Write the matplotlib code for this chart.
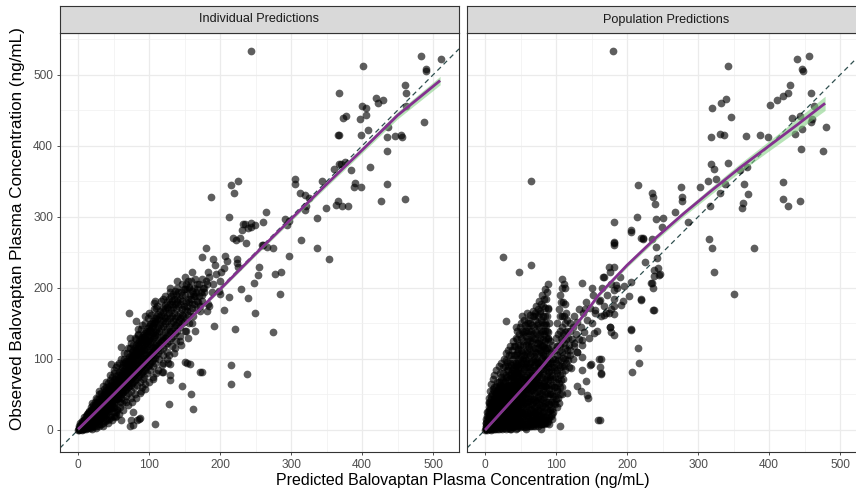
import numpy as np
import matplotlib
matplotlib.use("Agg")
import matplotlib.pyplot as plt
from matplotlib.ticker import MultipleLocator

plt.rcParams['font.family'] = ['Liberation Sans', 'DejaVu Sans']

panel_titles = ["Individual Predictions", "Population Predictions"]
x_title = "Predicted Balovaptan Plasma Concentration (ng/mL)"
y_title = "Observed Balovaptan Plasma Concentration (ng/mL)"
ticks = [0, 100, 200, 300, 400, 500]

# --- individual predictions (IPRED, DV) ---
ipred_core = [
    (0,0),(1,1),(1,3),(2,0),(2,2),(2,5),(3,1),(3,3),(3,6),(4,2),(4,4),(4,8),(5,1),(5,5),(5,9),
    (6,3),(6,6),(6,10),(7,2),(7,7),(7,12),(8,4),(8,8),(8,13),(9,3),(9,9),(9,14),(10,5),(10,10),(10,16),
    (11,4),(11,9),(11,14),(11,19),(12,6),(12,12),(12,17),(13,3),(13,10),(13,15),(13,21),(14,7),(14,13),
    (14,18),(14,24),(15,5),(15,11),(15,16),(15,22),(16,8),(16,14),(16,20),(16,26),(17,6),(17,12),(17,18),
    (17,24),(18,9),(18,15),(18,21),(18,28),(19,7),(19,13),(19,19),(19,25),(20,10),(20,16),(20,22),(20,30),
    (21,8),(21,15),(21,21),(21,28),(22,12),(22,18),(22,25),(22,33),(23,10),(23,16),(23,23),(23,30),
    (24,13),(24,20),(24,27),(24,35),(25,11),(25,18),(25,25),(25,32),(26,15),(26,22),(26,29),(26,38),
    (27,12),(27,20),(27,27),(27,34),(28,16),(28,24),(28,31),(28,40),(29,14),(29,21),(29,29),(29,36),
    (30,18),(30,25),(30,33),(30,43),(31,15),(31,23),(31,31),(31,38),(32,19),(32,27),(32,35),(32,45),
    (33,17),(33,25),(33,33),(33,41),(34,21),(34,29),(34,37),(34,48),(35,18),(35,26),(35,35),(35,43),
    (36,24),(36,32),(36,40),(36,50),(37,20),(37,29),(37,37),(37,46),(38,26),(38,34),(38,43),(38,53),
    (39,22),(39,31),(39,39),(39,48),(40,28),(40,36),(40,45),(40,56),(41,25),(41,33),(41,42),(41,50),
    (42,30),(42,38),(42,47),(42,58),(43,27),(43,35),(43,44),(43,53),(44,32),(44,41),(44,50),(44,62),
    (45,29),(45,38),(45,46),(45,56),(46,34),(46,43),(46,52),(46,64),(47,31),(47,40),(47,49),(47,59),
    (48,36),(48,45),(48,55),(48,67),(49,33),(49,42),(49,51),(49,62),(50,38),(50,47),(50,57),(50,70),
    (52,40),(52,50),(52,60),(52,72),(54,43),(54,53),(54,63),(54,76),(56,45),(56,55),(56,66),(56,78),
    (58,47),(58,58),(58,69),(58,82),(60,50),(60,61),(60,72),(60,85),
    (62,52),(62,63),(62,74),(62,88),(64,54),(64,66),(64,77),(64,91),(66,56),(66,68),(66,80),(66,94),
    (68,58),(68,70),(68,83),(68,97),(70,60),(70,73),(70,85),(70,100),(72,62),(72,75),(72,88),(72,103),
    (74,64),(74,78),(74,91),(74,106),(76,66),(76,80),(76,93),(76,110),(78,68),(78,82),(78,96),(78,112),
    (80,70),(80,85),(80,99),(80,116),(82,72),(82,87),(82,102),(82,119),(84,74),(84,90),(84,105),(84,122),
    (86,77),(86,92),(86,108),(86,125),(88,79),(88,95),(88,111),(88,128),(90,81),(90,97),(90,113),(90,131),
    (92,83),(92,100),(92,116),(92,134),(94,85),(94,102),(94,119),(94,137),(96,88),(96,105),(96,122),
    (96,140),(98,90),(98,107),(98,125),(98,143),(100,92),(100,110),(100,127),(100,146),
    (102,95),(102,112),(102,130),(102,149),(104,97),(104,115),(104,133),(104,151),(106,100),(106,117),
    (106,136),(106,154),(108,102),(108,120),(108,138),(108,157),(110,105),(110,123),(110,141),(110,160),
    (113,108),(113,127),(113,145),(113,164),(116,112),(116,131),(116,149),(116,168),(119,115),(119,134),
    (119,153),(119,172),(122,119),(122,138),(122,157),(122,176),(125,122),(125,142),(125,161),(125,180),
    (128,126),(128,146),(128,165),(128,184),(131,130),(131,150),(131,169),(131,188),(134,133),(134,153),
    (134,173),(134,192),(137,137),(137,157),(137,177),(137,196),(140,140),(140,160),(140,180),(140,200),
    (143,145),(143,165),(143,185),(146,150),(146,170),(146,190),(149,152),(149,175),(149,198),(152,158),
    (152,180),(152,205),(155,162),(155,185),(155,210),(158,168),(158,190),(161,172),(161,196),(164,178),
    (164,200),(167,182),(167,205),(170,188),(173,195),(176,200),
]
ipred_core_fill = [
    (3,10),(5,0),(6,13),(8,1),(9,18),(11,2),(12,22),(14,3),(15,27),(17,3),(18,32),(20,4),(21,35),(23,5),
    (24,40),(26,6),(27,44),(29,8),(30,50),(32,9),(33,52),(35,10),(36,58),(38,12),(39,60),(41,14),(42,66),
    (44,16),(45,70),(47,18),(48,75),(50,20),(51,80),(53,25),(54,88),(55,30),(57,95),(59,33),
    (22,21),(24,30),(26,26),(28,35),(30,29),(32,40),(34,33),(36,45),(38,38),(40,50),(42,42),(44,56),
    (46,47),(48,61),(50,52),(51,33),(53,64),(55,44),(57,60),(59,75),(51,62),(53,45),(55,70),(57,52),
    (59,40),(61,68),(61,45),(61,80),
    (63,58),(63,70),(63,83),(63,95),(65,42),(65,60),(65,74),(65,100),(67,63),(67,76),(67,90),(67,48),
    (69,65),(69,78),(69,93),(69,108),(71,52),(71,67),(71,81),(71,96),(73,70),(73,84),(73,99),(73,115),
    (75,55),(75,73),(75,87),(75,102),(77,75),(77,90),(77,105),(77,120),(79,60),(79,78),(79,93),(79,108),
    (81,80),(81,95),(81,111),(81,128),(83,64),(83,82),(83,98),(83,114),(85,85),(85,101),(85,118),(85,135),
    (87,68),(87,87),(87,104),(87,121),(89,90),(89,107),(89,124),(89,142),(91,72),(91,92),(91,109),
    (91,127),(93,75),(93,95),(93,112),(93,131),(95,97),(95,115),(95,133),(95,150),(97,80),(97,100),
    (97,118),(97,136),(99,102),(99,121),(99,139),(99,158),
    (101,85),(101,105),(101,123),(101,141),(103,107),(103,126),(103,144),(103,162),(105,90),(105,110),
    (105,129),(105,147),(107,112),(107,131),(107,150),(107,170),(109,95),(109,115),(109,134),(109,153),
    (111,118),(111,137),(111,156),(111,175),(114,100),(114,121),(114,140),(114,159),(117,124),(117,143),
    (117,162),(117,182),(120,105),(120,127),(120,147),(120,166),(123,130),(123,150),(123,170),(123,188),
    (126,110),(126,133),(126,153),(126,173),(129,137),(129,157),(129,177),(129,195),(132,118),(132,140),
    (132,161),(132,181),(135,144),(135,165),(135,185),(138,125),(138,148),(138,170),(138,190),(141,152),
    (141,175),(141,195),(144,132),(144,158),(144,178),(147,162),(147,182),(147,205),(150,140),(150,170),
    (150,190),(153,175),(153,198),(156,150),(156,180),(156,202),(159,185),(159,210),(162,160),(162,192),
    (165,188),(165,212),(168,170),(168,198),(171,205),(174,182),(174,212),(177,195),(180,210),
    (12,8),(14,16),(16,11),(18,19),(20,13),(22,23),(24,16),(26,33),(28,20),(30,37),(32,24),(34,41),
    (36,28),(38,47),(40,32),(42,52),(44,37),(46,58),(48,41),(50,63),(52,45),(54,68),(56,50),(58,73),
    (60,55),(62,79),(64,60),(66,86),(68,64),(70,92),(72,69),(74,98),(76,74),(78,104),(80,79),(82,110),
    (84,83),(86,116),(88,88),(90,122),(92,92),(94,128),(96,97),(98,134),(100,101),(102,140),(104,106),
    (106,146),(108,111),(110,150),(112,116),(115,155),(118,125),(121,160),(124,130),(127,170),(130,140),
    (133,178),(136,148),(139,185),(142,155),(145,195),(148,160),(151,198),(154,168),(157,200),(160,178),
    (163,188),(166,195),(169,180),
    (40,15),(45,20),(55,28),(62,38),(68,40),(75,45),(80,50),(90,60),(95,65),(105,75),(110,80),(118,92),
    (125,100),(135,108),(145,120),(155,130),(165,140),
    (185,215),(190,205),(195,220),(200,210),(205,228),(193,232),(210,238),(198,196),(183,222),
    (20,2),(25,3),(30,5),(35,6),(42,10),(48,14),(52,18),(58,22),(64,28),(70,35),(76,40),(82,45),(88,55),
    (94,58),(100,68),(106,72),(112,85),(120,95),(128,105),(136,115),(144,125),(152,140),(160,150),
    (20,38),(25,45),(30,55),(35,62),(40,68),(45,78),(50,85),(55,92),(60,100),(65,108),(70,115),(75,122),
    (80,130),(85,142),(90,148),(95,160),(100,165),(110,172),(120,185),(130,200),(140,210),(150,215),
    (160,222),
]
ipred_scatter = [
    (243,533),(483,526),(511,523),(402,512),(490,508),(490,505),(368,475),(461,486),(462,475),(420,467),
    (430,465),(423,460),(400,456),(405,453),(378,442),(373,439),(397,438),(405,443),(487,433),(408,423),
    (399,416),(366,416),(368,416),(435,413),(447,414),(455,416),(457,413),(437,426),(462,456),(435,393),
    (411,371),(367,375),(370,375),(376,377),(361,367),(384,366),(390,348),(399,342),(389,342),(435,346),
    (427,323),(461,325),(366,322),(364,317),(372,315),(380,315),(349,312),(306,354),(305,347),(343,351),
    (312,334),(319,331),(326,327),(321,316),(337,298),(292,297),(294,289),(297,294),(314,268),(336,256),
    (187,328),(216,345),(226,350),(219,334),(213,300),(233,290),(231,282),(239,285),(243,291),(265,307),
    (261,293),(218,270),(222,268),(228,270),(236,264),(180,256),(261,260),(275,256),(320,310),(353,241),
    (297,245),(249,289),(244,286),(235,290),(174,244),(190,241),(207,245),(224,241),(224,235),(226,230),
    (202,223),(255,230),(253,218),(278,220),(286,222),(248,207),(230,199),(239,186),(285,191),(212,187),
    (200,192),(206,169),(249,165),(191,146),(221,142),(274,138),(216,92),(238,79),(216,65),(174,82),
    (151,96),(158,93),(146,62),(159,51),(162,30),(128,37),(108,9),(129,93),(130,77),(130,70),(119,81),
    (107,179),(72,165),(77,7),(83,14),(87,17),(75,14),(77,26),(108,181),(82,154),(47,93),(60,117),
    (73,129),(85,134),(127,94),(153,95),(172,81),(118,82),(87,52),(73,5),(86,16),(60,14),(50,26),(54,19),
    (259,261),(266,258),(175,190),(178,200),(182,205),(185,175),(188,195),(172,168),(172,174),(183,178),
    (181,167),
]
# loess smooth
ipred_smooth_x = [0, 50, 100, 150, 200, 250, 300, 350, 400, 450, 510]
ipred_smooth_y = [1, 50, 100, 149, 198, 248, 297, 346, 394, 443, 492]
ipred_smooth_se = [1.5, 1.5, 1.5, 1.8, 2.2, 2.6, 3.0, 3.5, 4.0, 5.0, 6.0]

# --- population predictions (PRED, DV) ---
pred_core = [
    (0,0),(1,2),(1,6),(2,1),(2,4),(2,10),(3,0),(3,7),(3,14),(4,3),(4,9),(4,18),(5,1),(5,6),(5,12),(5,22),
    (6,4),(6,15),(6,28),(7,2),(7,9),(7,20),(8,0),(8,6),(8,13),(8,32),(9,3),(9,11),(9,24),(10,1),(10,8),
    (10,17),(10,38),
    (11,4),(11,12),(11,22),(11,30),(12,2),(12,9),(12,16),(12,27),(12,45),(13,6),(13,14),(13,20),(13,35),
    (14,1),(14,10),(14,18),(14,25),(14,40),(15,4),(15,12),(15,22),(15,30),(15,52),(16,7),(16,15),(16,26),
    (16,36),(17,2),(17,10),(17,19),(17,31),(17,46),(18,5),(18,13),(18,23),(18,40),(18,58),(19,8),(19,16),
    (19,28),(19,35),(20,1),(20,11),(20,20),(20,32),(20,50),(21,6),(21,14),(21,24),(21,42),(21,64),(22,3),
    (22,9),(22,18),(22,28),(22,37),(23,7),(23,15),(23,26),(23,48),(23,70),(24,2),(24,11),(24,21),(24,33),
    (24,56),(25,5),(25,14),(25,24),(25,40),(25,62),(26,9),(26,18),(26,30),(26,45),(26,80),(27,3),(27,12),
    (27,22),(27,36),(27,52),(28,7),(28,16),(28,27),(28,42),(28,68),(28,90),(29,10),(29,20),(29,32),(29,58),
    (30,2),(30,14),(30,25),(30,38),(30,48),(30,75),(30,98),
    (31,6),(31,18),(31,30),(31,44),(31,62),(32,10),(32,22),(32,35),(32,52),(32,84),(33,3),(33,14),(33,27),
    (33,40),(33,70),(34,8),(34,19),(34,32),(34,47),(34,58),(34,105),(35,12),(35,24),(35,37),(35,54),(35,78),
    (36,4),(36,16),(36,29),(36,43),(36,62),(36,92),(37,9),(37,21),(37,34),(37,50),(37,70),(38,13),(38,26),
    (38,40),(38,57),(38,85),(38,112),(39,5),(39,18),(39,31),(39,46),(39,66),(40,10),(40,23),(40,37),(40,53),
    (40,76),(40,100),(41,15),(41,28),(41,43),(41,60),(41,88),(42,6),(42,20),(42,34),(42,49),(42,68),(42,118),
    (43,11),(43,25),(43,40),(43,56),(43,80),(43,106),(44,16),(44,30),(44,46),(44,64),(44,94),(45,7),(45,21),
    (45,36),(45,52),(45,72),(45,128),(46,12),(46,27),(46,42),(46,60),(46,84),(46,114),(47,17),(47,32),
    (47,48),(47,68),(47,100),(48,8),(48,23),(48,38),(48,55),(48,76),(48,135),(49,13),(49,28),(49,44),
    (49,62),(49,90),(49,120),(50,18),(50,34),(50,50),(50,70),(50,104),(52,10),(52,25),(52,41),(52,58),
    (52,80),(52,140),(54,15),(54,31),(54,48),(54,66),(54,95),(54,125),(56,8),(56,22),(56,38),(56,55),
    (56,75),(56,110),(56,148),(58,12),(58,28),(58,45),(58,63),(58,88),(58,132),(60,17),(60,34),(60,52),
    (60,72),(60,100),(60,118),(60,155),
    (62,10),(62,24),(62,41),(62,60),(62,82),(62,140),(64,14),(64,30),(64,48),(64,68),(64,95),(64,125),
    (64,162),(66,8),(66,20),(66,37),(66,56),(66,78),(66,108),(66,148),(68,12),(68,27),(68,44),(68,64),
    (68,88),(68,130),(68,168),(70,16),(70,33),(70,52),(70,72),(70,100),(70,115),(70,155),(72,10),(72,22),
    (72,40),(72,60),(72,82),(72,138),(72,175),(74,14),(74,28),(74,47),(74,68),(74,95),(74,122),(74,160),
    (76,8),(76,20),(76,36),(76,55),(76,78),(76,108),(76,145),(76,182),(78,12),(78,27),(78,44),(78,64),
    (78,90),(78,130),(78,168),(80,16),(80,34),(80,52),(80,74),(80,102),(80,118),(80,152),(80,190),(82,10),
    (82,24),(82,42),(82,62),(82,86),(82,140),(82,175),(84,14),(84,32),(84,50),(84,72),(84,98),(84,125),
    (84,160),(84,198),(86,20),(86,40),(86,60),(86,84),(86,112),(86,148),(86,185),(88,26),(88,48),(88,70),
    (88,95),(88,130),(88,172),(88,205),(90,18),(90,36),(90,58),(90,82),(90,108),(90,150),
    (92,30),(92,52),(92,75),(92,98),(94,40),(94,64),(94,88),(94,120),(96,26),(96,48),(96,72),(96,100),
    (98,36),(98,60),(98,85),(98,112),(100,44),(100,68),(100,95),(100,130),(102,55),(102,80),(102,105),
    (102,150),(104,38),(104,66),(104,92),(104,120),(104,170),(106,50),(106,78),(106,108),(106,140),
    (106,190),(108,60),(108,90),(108,125),(108,160),(108,212),(110,72),(110,102),(110,135),(110,180),
    (112,84),(112,115),(112,150),(112,200),(114,95),(114,128),(114,165),(116,105),(116,140),(118,88),
    (118,120),(120,112),(120,150),
    (122,128),(124,100),(124,145),(126,118),(126,160),(128,135),(130,110),(130,152),(132,128),(132,170),
    (135,145),(137,120),(138,165),(140,138),(142,180),(144,155),(146,130),(148,172),(150,150),(152,190),
    (155,165),(158,140),(160,182),(163,160),(165,200),(168,175),(172,190),(175,165),(178,205),(182,185),
    (186,200),(190,215),
]
pred_core_fill = [
    (1,10),(2,16),(3,20),(4,26),(5,32),(6,38),(7,30),(8,44),(9,36),(10,50),(11,40),(12,36),(13,55),
    (14,32),(15,42),(16,62),(17,38),(18,48),(19,68),(20,42),(21,54),(22,75),(23,38),(24,45),(25,52),
    (26,60),(27,68),(28,55),(29,45),(29,78),(30,60),
    (31,12),(31,24),(31,37),(31,52),(31,75),(33,8),(33,20),(33,33),(33,48),(33,60),(33,90),(35,6),(35,18),
    (35,30),(35,45),(35,64),(35,95),(37,2),(37,15),(37,27),(37,42),(37,58),(37,80),(39,10),(39,24),(39,38),
    (39,54),(39,75),(39,95),(41,5),(41,20),(41,35),(41,50),(41,70),(41,105),(43,2),(43,16),(43,32),(43,48),
    (43,65),(43,90),(45,14),(45,28),(45,44),(45,62),(45,82),(45,108),(47,5),(47,24),(47,40),(47,58),
    (47,78),(47,120),(49,4),(49,20),(49,36),(49,53),(49,72),(49,100),(51,8),(51,26),(51,42),(51,60),
    (51,80),(51,112),(51,130),(53,5),(53,20),(53,36),(53,52),(53,72),(53,90),(53,120),(55,10),(55,26),
    (55,42),(55,60),(55,86),(55,105),(55,138),(57,4),(57,18),(57,34),(57,50),(57,72),(57,95),(57,120),
    (59,24),(59,40),(59,58),(59,78),(59,110),(59,145),(61,6),(61,20),(61,45),(61,65),(61,90),(61,128),
    (63,5),(63,20),(63,36),(63,55),(63,75),(63,105),(63,150),(65,12),(65,28),(65,44),(65,62),(65,85),
    (65,118),(67,6),(67,22),(67,40),(67,58),(67,72),(67,98),(67,135),(69,14),(69,30),(69,48),(69,68),
    (69,92),(69,160),(71,8),(71,24),(71,42),(71,62),(71,85),(71,110),(71,128),(73,16),(73,34),(73,54),
    (73,74),(73,98),(73,148),(75,6),(75,24),(75,42),(75,64),(75,88),(75,115),(75,170),(77,14),(77,32),
    (77,52),(77,88),(77,112),(77,135),(79,8),(79,24),(79,44),(79,70),(79,98),(79,155),(79,178),(81,18),
    (81,34),(81,56),(81,80),(81,105),(81,128),(83,8),(83,26),(83,46),(83,66),(83,92),(83,148),(83,185),
    (85,18),(85,38),(85,62),(85,90),(85,115),(85,140),(85,172),(87,10),(87,30),(87,52),(87,76),(87,100),
    (87,160),(87,195),(89,16),(89,40),(89,64),(89,88),(89,115),(89,138),(91,28),(91,50),(91,72),(91,95),
    (91,125),(93,20),(93,40),(93,62),(93,85),(93,110),(95,30),(95,50),(95,78),(95,95),
    (97,38),(97,60),(97,88),(99,48),(99,75),(99,100),(101,32),(101,58),(101,85),(101,118),(103,45),
    (103,72),(103,98),(103,135),(105,60),(105,88),(105,118),(105,160),(107,70),(107,98),(107,130),
    (107,180),(109,80),(109,110),(109,145),(109,200),(111,90),(111,122),(111,160),(111,205),(113,100),
    (113,138),(113,178),(115,112),(115,155),(117,98),(117,130),(119,105),(119,140),
    (3,25),(5,16),(6,45),(7,36),(8,22),(9,48),(10,28),(11,58),(12,60),(13,42),(14,48),(15,36),(16,44),
    (17,55),(18,30),(19,45),(20,60),(21,36),(22,46),(23,58),(24,28),(25,34),(26,50),(27,42),(28,34),
    (29,26),(30,56),(31,84),(32,42),(33,56),(34,40),(35,50),(36,36),(37,62),(38,48),(39,84),(40,44),
    (41,80),(42,56),(43,72),(44,38),(45,92),(46,50),(47,88),(48,46),(49,80),(50,60),(51,95),(52,48),
    (53,100),(54,56),(55,70),(56,88),(57,62),(58,98),(59,68),(60,82),(61,108),(62,70),(63,88),(64,58),
    (65,96),(66,66),(67,115),(68,76),(69,104),(70,62),(71,96),(72,70),(73,122),(74,80),(75,96),(76,66),
    (77,120),(78,80),(79,110),(80,62),(81,92),(82,108),(83,120),(84,62),(85,104),(86,72),(87,115),
    (88,82),(89,128),
    (20,6),(25,8),(30,8),(35,2),(40,4),(45,3),(50,6),(55,4),(60,8),(65,5),(70,6),(75,12),(80,8),(85,10),
    (90,8),(95,15),(38,6),(48,12),(58,2),(68,18),(78,20),(88,12),
    (5,40),(7,55),(9,65),(11,72),(13,78),(15,85),(17,68),(19,90),(21,80),(23,95),(25,88),(27,100),
    (29,108),(31,96),(33,112),(35,118),(37,105),(39,125),(41,118),(43,130),(45,140),(47,110),(49,145),
    (51,150),(53,135),(55,155),(57,140),(59,125),(61,150),(63,135),(65,140),(67,160),(69,145),(71,165),
    (73,135),(75,150),(77,165),(79,140),(81,160),(83,135),(85,150),(87,140),(89,170),
    (12,30),(16,50),(22,60),(26,70),(32,64),(36,75),(42,85),(46,95),(52,110),(56,100),(62,115),(66,125),
    (72,108),(76,125),(82,118),(86,130),
]
pred_scatter = [
    (180,533),(65,350),(439,523),(456,526),(446,509),(448,505),(342,512),(429,486),(427,475),(420,470),
    (411,465),(402,457),(459,475),(320,453),(333,460),(339,466),(346,441),(432,439),(444,442),(464,456),
    (461,438),(459,433),(447,424),(437,417),(480,426),(445,396),(476,393),(318,413),(331,417),(337,415),
    (368,414),(387,415),(398,413),(318,374),(323,367),(342,376),(359,366),(369,371),(314,351),(326,353),
    (338,347),(365,347),(371,332),(364,319),(362,312),(419,349),(419,325),(427,315),(444,323),(317,315),
    (303,342),(276,342),(278,328),(277,322),(235,334),(237,328),(239,318),(216,345),(268,307),(286,293),
    (241,297),(251,298),(249,286),(214,300),(205,281),(182,293),(181,264),(223,269),(235,269),(241,257),
    (316,269),(319,256),(379,256),(331,334),(323,222),(350,191),(222,270),(242,242),(226,236),(244,228),
    (246,220),(238,217),(234,207),(237,200),(237,169),(219,184),(206,142),(216,116),(217,94),(207,81),
    (203,188),(196,203),(185,204),(182,197),(174,230),(167,216),(176,222),(181,174),(170,165),(182,164),
    (178,138),(176,145),(164,100),(164,79),(162,14),(25,244),(65,233),(48,223),(30,153),(159,14),(105,5),
    (79,2),(145,45),(143,49),(135,55),(129,62),(142,69),(164,80),(161,100),(149,93),(136,84),(121,87),
    (109,51),(115,52),(94,23),(137,207),(151,200),(166,216),(181,230),(181,261),(181,265),(205,279),
    (219,270),(238,225),(245,218),(235,207),(205,209),(219,183),(238,169),(205,141),(162,89),(148,92),
    (137,103),(130,110),(125,122),(137,127),(153,136),(176,145),(181,134),(141,171),(155,169),(167,162),
    (177,171),(191,176),(195,181),(162,183),(43,145),(52,160),(59,165),
]
pred_smooth_x = [0, 20, 40, 60, 80, 100, 120, 140, 160, 200, 240, 280, 320, 360, 400, 440, 479]
pred_smooth_y = [0, 22, 44, 66, 89, 113, 138, 163, 190, 232, 270, 305, 338, 370, 400, 430, 460]
pred_smooth_se = [1.5, 1.5, 1.5, 1.5, 1.8, 2, 2.2, 2.4, 2.6, 3, 3.5, 4, 5, 6, 7, 8.5, 10]

W, H = 856, 495
fig = plt.figure(figsize=(W / 100, H / 100), dpi=100)

panel_l = [60, 467]
panel_w = 399
top, bottom = 33, 452
strip_top = 6

XLIM = (-25.4, 536.6)
YLIM = (-31, 559)


def draw_panel(left_px, title, points, sx, sy, se, show_y):
    ax = fig.add_axes([left_px / W, 1 - bottom / H, panel_w / W, (bottom - top) / H])
    ax.set_xlim(*XLIM)
    ax.set_ylim(*YLIM)
    ax.set_xticks(ticks)
    ax.set_yticks(ticks)
    ax.xaxis.set_minor_locator(MultipleLocator(50))
    ax.yaxis.set_minor_locator(MultipleLocator(50))
    ax.grid(which='major', color='#EBEBEB', lw=0.9, zorder=0)
    ax.grid(which='minor', color='#F0F0F0', lw=0.5, zorder=0)
    ax.set_axisbelow(True)
    ax.tick_params(which='minor', length=0)
    ax.tick_params(which='major', length=2.5, width=0.6, color='#333333',
                   labelsize=8.6, labelcolor='#4D4D4D', pad=2.5)
    if not show_y:
        ax.tick_params(axis='y', left=False, labelleft=False)
    for s in ax.spines.values():
        s.set_color('#333333')
        s.set_linewidth(0.8)

    ax.axline((0, 0), slope=1, color='#2F4F4F', lw=0.9, dashes=(4, 3), zorder=1)

    pts = np.array(points, dtype=float)
    ax.scatter(pts[:, 0], pts[:, 1], s=31, c='black', alpha=0.63, linewidths=0, zorder=2)

    sx = np.array(sx, float)
    sy = np.array(sy, float)
    se = np.array(se, float)
    ax.fill_between(sx, sy - se, sy + se, color='#7CCD7C', alpha=0.55, lw=0, zorder=3)
    ax.plot(sx, sy, color='#84308F', lw=2.0, zorder=4, solid_capstyle='butt')

    sax = fig.add_axes([left_px / W, 1 - top / H, panel_w / W, (top - strip_top) / H])
    sax.set_facecolor('#D9D9D9')
    sax.set_xticks([])
    sax.set_yticks([])
    for s in sax.spines.values():
        s.set_color('#333333')
        s.set_linewidth(0.8)
    sax.text(0.5, 0.5, title, ha='center', va='center', fontsize=9.1,
             color='#1A1A1A', transform=sax.transAxes)
    return ax


draw_panel(panel_l[0], panel_titles[0], ipred_core + ipred_core_fill + ipred_scatter,
           ipred_smooth_x, ipred_smooth_y, ipred_smooth_se, True)
draw_panel(panel_l[1], panel_titles[1], pred_core + pred_core_fill + pred_scatter,
           pred_smooth_x, pred_smooth_y, pred_smooth_se, False)

fig.text(463 / W, 1 - 481 / H, x_title, ha='center', va='center', fontsize=11.5, color='black')
fig.text(18 / W, 1 - 229 / H, y_title, ha='center', va='center', rotation=90,
         fontsize=12.3, color='black')

fig.savefig('out.png', dpi=100)
